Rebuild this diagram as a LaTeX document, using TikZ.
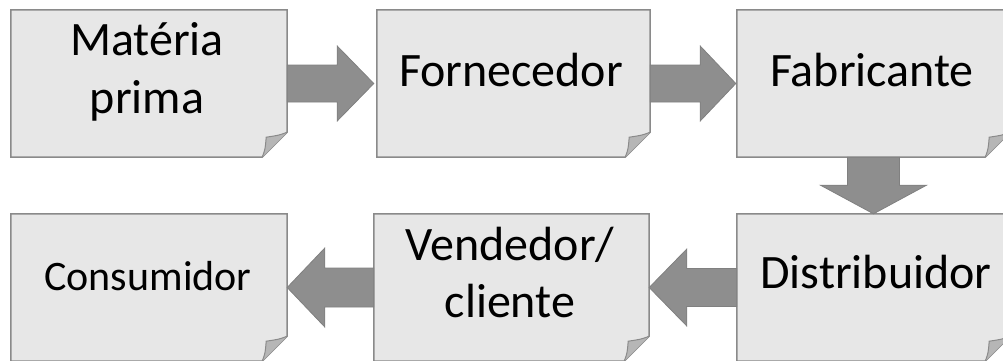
\documentclass[tikz,border=0pt]{standalone}
\usepackage{fontspec}
\setmainfont{Carlito}
\usetikzlibrary{calc}
\pgfdeclarelayer{background}
\pgfsetlayers{background,main}
\definecolor{boxfill}{HTML}{E7E7E7}
\definecolor{boxline}{HTML}{8A8A8A}
\definecolor{foldfill}{HTML}{B6B6B6}
\definecolor{arrowfill}{HTML}{8E8E8E}
\definecolor{arrowline}{HTML}{808080}
\tikzset{
  notebox/.style={inner sep=0pt},
  label48/.style={inner sep=0pt, anchor=base, font=\fontsize{48}{55}\selectfont},
  label42/.style={inner sep=0pt, anchor=base, font=\fontsize{42}{50}\selectfont},
  noteline/.style={draw=boxline, fill=boxfill, line width=1.5pt, line join=miter},
  foldline/.style={draw=boxline, fill=foldfill, line width=1pt},
  blockarrow/.style={draw=arrowline, fill=arrowfill, line width=0.8pt},
}
\newcommand\foldbox[1]{%
  \begin{pgfonlayer}{background}
  \path[noteline] (#1.north west) -- (#1.north east) -- ([yshift=25pt]#1.south east)
     -- ([xshift=-25pt]#1.south east) -- (#1.south west) -- cycle;
  \path[foldline] ([yshift=25pt]#1.south east)
     .. controls ([xshift=-8pt,yshift=22pt]#1.south east) .. ([xshift=-21pt,yshift=20pt]#1.south east)
     .. controls ([xshift=-22pt,yshift=8pt]#1.south east) .. ([xshift=-25pt]#1.south east);
  \end{pgfonlayer}}
\begin{document}
\begin{tikzpicture}[x=1pt,y=-1pt]
\useasboundingbox (0,0) rectangle (1003,360);
\clip (0,0) rectangle (1003,360);
\node[notebox, minimum width=276pt, minimum height=147pt] (b1) at (149,83.5) {};
\node[notebox, minimum width=273pt, minimum height=147pt] (b2) at (513.5,83.5) {};
\node[notebox, minimum width=273pt, minimum height=147pt] (b3) at (873.5,83.5) {};
\node[notebox, minimum width=276pt, minimum height=147pt] (b4) at (149,287.5) {};
\node[notebox, minimum width=275pt, minimum height=147pt] (b5) at (511.5,287.5) {};
\node[notebox, minimum width=273pt, minimum height=147pt] (b6) at (873.5,287.5) {};
\foreach \b in {b1,b2,b3,b4,b5,b6} {\foldbox{\b}}
% texts
\node[label48] (t1a) at (147,55) {Matéria};
\node[label48] (t1b) at (147,113) {prima};
\node[label48] (t2) at (511,86) {Fornecedor};
\node[label48] (t3) at (872,86) {Fabricante};
\node[label42] (t4) at (148,290) {Consumidor};
\node[label48] (t5a) at (510,260) {Vendedor/};
\node[label48] (t5b) at (510,317) {cliente};
\node[label48] (t6) at (876,288) {Distribuidor};
% right arrows
\path[blockarrow] ($(b1.east)+(0,-18.5)$) -- ($(b1.east)+(50,-18.5)$) -- ($(b1.east)+(50,-37.5)$)
  -- ($(b2.west)+(-3,0)$) -- ($(b1.east)+(50,37.5)$) -- ($(b1.east)+(50,18.5)$) -- ($(b1.east)+(0,18.5)$) -- cycle;
\path[blockarrow] ($(b2.east)+(0,-18.5)$) -- ($(b2.east)+(50,-18.5)$) -- ($(b2.east)+(50,-37.5)$)
  -- ($(b3.west)+(-1,0)$) -- ($(b2.east)+(50,37.5)$) -- ($(b2.east)+(50,18.5)$) -- ($(b2.east)+(0,18.5)$) -- cycle;
% down arrow
\path[blockarrow] ($(b3.south)+(-26,0)$) -- ($(b3.south)+(-26,28)$) -- ($(b3.south)+(-53,28)$)
  -- (b6.north) -- ($(b3.south)+(53,28)$) -- ($(b3.south)+(26,28)$) -- ($(b3.south)+(26,0)$) -- cycle;
% left arrows
\path[blockarrow] ($(b6.west)+(0,-19)$) -- ($(b6.west)+(-50,-19)$) -- ($(b6.west)+(-50,-38.5)$)
  -- (b5.east) -- ($(b6.west)+(-50,38.5)$) -- ($(b6.west)+(-50,19)$) -- ($(b6.west)+(0,19)$) -- cycle;
\path[blockarrow] ($(b5.west)+(0,-19.5)$) -- ($(b5.west)+(-49,-19.5)$) -- ($(b5.west)+(-49,-39.5)$)
  -- (b4.east) -- ($(b5.west)+(-49,39.5)$) -- ($(b5.west)+(-49,19.5)$) -- ($(b5.west)+(0,19.5)$) -- cycle;
\end{tikzpicture}
\end{document}
